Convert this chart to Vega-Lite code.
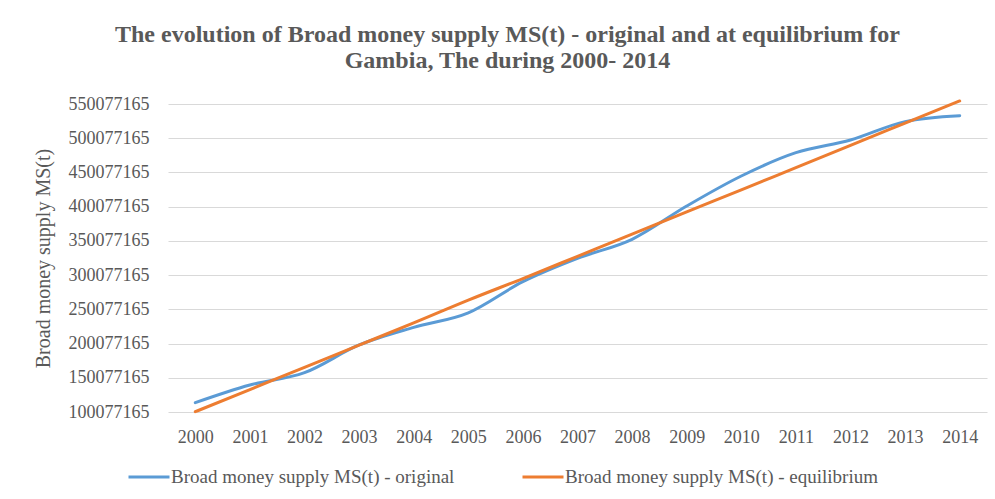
{
  "$schema": "https://vega.github.io/schema/vega-lite/v6.json",
  "autosize": "none",
  "width": 819,
  "height": 308,
  "padding": {"left": 168, "top": 104, "right": 8, "bottom": 87},
  "background": "white",
  "title": {
    "text": ["The evolution of Broad money supply MS(t) - original and at equilibrium  for", "Gambia, The during  2000- 2014"],
    "font": "Liberation Serif",
    "fontSize": 24,
    "fontWeight": "bold",
    "color": "#595959",
    "anchor": "middle",
    "dx": -70,
    "offset": 22,
    "lineHeight": 26
  },
  "data": {
    "values": [
      {"year": "2000", "series": "Broad money supply MS(t) - original", "value": 113700000},
      {"year": "2001", "series": "Broad money supply MS(t) - original", "value": 139500000},
      {"year": "2002", "series": "Broad money supply MS(t) - original", "value": 157500000},
      {"year": "2003", "series": "Broad money supply MS(t) - original", "value": 198000000},
      {"year": "2004", "series": "Broad money supply MS(t) - original", "value": 223800000},
      {"year": "2005", "series": "Broad money supply MS(t) - original", "value": 245000000},
      {"year": "2006", "series": "Broad money supply MS(t) - original", "value": 290500000},
      {"year": "2007", "series": "Broad money supply MS(t) - original", "value": 324600000},
      {"year": "2008", "series": "Broad money supply MS(t) - original", "value": 352400000},
      {"year": "2009", "series": "Broad money supply MS(t) - original", "value": 401000000},
      {"year": "2010", "series": "Broad money supply MS(t) - original", "value": 444900000},
      {"year": "2011", "series": "Broad money supply MS(t) - original", "value": 479000000},
      {"year": "2012", "series": "Broad money supply MS(t) - original", "value": 497500000},
      {"year": "2013", "series": "Broad money supply MS(t) - original", "value": 524300000},
      {"year": "2014", "series": "Broad money supply MS(t) - original", "value": 533000000},
      {"year": "2000", "series": "Broad money supply MS(t) - equilibrium", "value": 100500000},
      {"year": "2001", "series": "Broad money supply MS(t) - equilibrium", "value": 132900000},
      {"year": "2002", "series": "Broad money supply MS(t) - equilibrium", "value": 165400000},
      {"year": "2003", "series": "Broad money supply MS(t) - equilibrium", "value": 197800000},
      {"year": "2004", "series": "Broad money supply MS(t) - equilibrium", "value": 230200000},
      {"year": "2005", "series": "Broad money supply MS(t) - equilibrium", "value": 263500000},
      {"year": "2006", "series": "Broad money supply MS(t) - equilibrium", "value": 295100000},
      {"year": "2007", "series": "Broad money supply MS(t) - equilibrium", "value": 327500000},
      {"year": "2008", "series": "Broad money supply MS(t) - equilibrium", "value": 359900000},
      {"year": "2009", "series": "Broad money supply MS(t) - equilibrium", "value": 392400000},
      {"year": "2010", "series": "Broad money supply MS(t) - equilibrium", "value": 424600000},
      {"year": "2011", "series": "Broad money supply MS(t) - equilibrium", "value": 457200000},
      {"year": "2012", "series": "Broad money supply MS(t) - equilibrium", "value": 489700000},
      {"year": "2013", "series": "Broad money supply MS(t) - equilibrium", "value": 522100000},
      {"year": "2014", "series": "Broad money supply MS(t) - equilibrium", "value": 554500000}
    ]
  },
  "mark": {"type": "line", "strokeWidth": 3, "interpolate": "monotone", "strokeCap": "round"},
  "encoding": {
    "x": {
      "field": "year",
      "type": "ordinal",
      "scale": {"type": "point", "padding": 0.5},
      "axis": {
        "title": null,
        "labelAngle": 0,
        "ticks": false,
        "domain": false,
        "grid": false,
        "labelFont": "Liberation Serif",
        "labelFontSize": 18,
        "labelColor": "#595959",
        "labelPadding": 16
      }
    },
    "y": {
      "field": "value",
      "type": "quantitative",
      "scale": {"domain": [100077165, 550077165], "nice": false, "zero": false},
      "axis": {
        "title": "Broad money supply MS(t)",
        "titleFont": "Liberation Serif",
        "titleFontSize": 20,
        "titleFontWeight": "normal",
        "titleColor": "#595959",
        "titleX": -125,
        "titleY": 154,
        "titleAngle": 270,
        "titleAlign": "center",
        "titleBaseline": "middle",
        "values": [100077165, 150077165, 200077165, 250077165, 300077165, 350077165, 400077165, 450077165, 500077165, 550077165],
        "format": "d",
        "ticks": false,
        "domain": false,
        "grid": true,
        "gridColor": "#D9D9D9",
        "gridWidth": 1,
        "labelFont": "Liberation Serif",
        "labelFontSize": 18,
        "labelColor": "#595959",
        "labelPadding": 19
      }
    },
    "color": {
      "field": "series",
      "type": "nominal",
      "scale": {
        "domain": ["Broad money supply MS(t) - original", "Broad money supply MS(t) - equilibrium"],
        "range": ["#5B9BD5", "#ED7D31"]
      },
      "legend": {
        "title": null,
        "orient": "none",
        "legendX": -41,
        "legendY": 351,
        "direction": "horizontal",
        "symbolType": "stroke",
        "symbolSize": 1681,
        "symbolStrokeWidth": 3,
        "labelFont": "Liberation Serif",
        "labelFontSize": 19,
        "labelColor": "#595959",
        "labelOffset": 0,
        "columnPadding": 61,
        "labelLimit": 400
      }
    }
  },
  "config": {"view": {"stroke": null}}
}
